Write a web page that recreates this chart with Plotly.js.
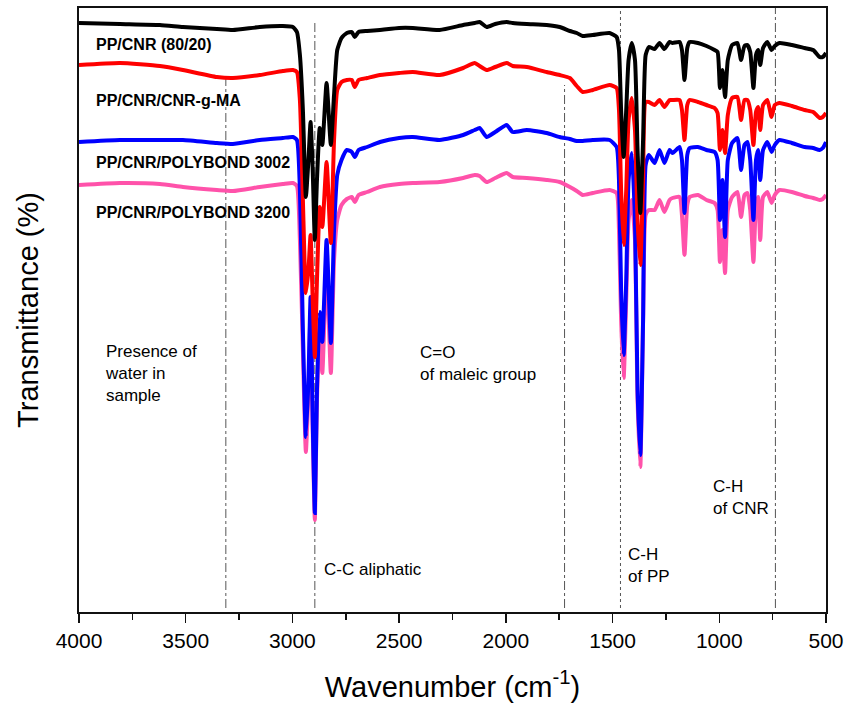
<!DOCTYPE html>
<html>
<head>
<meta charset="utf-8">
<script src="https://cdn.plot.ly/plotly-3.0.1.min.js"></script>
<style>html,body{margin:0;padding:0;background:#fff;}#chart{width:849px;height:707px;}</style>
</head>
<body>
<div id="chart"></div>
<script>
// Wavenumber grid (cm-1)
const wavenumber = [4000,3808,3621,3513,3354,3279,3153,3045,2998,2979,2965,2951,2937,2925,2915,2905,2895,2885,2872,2860,2840,2820,2805,2790,2770,2745,2722,2708,2690,2650,2590,2500,2436,2310,2200,2146,2123,2090,2050,1996,1968,1902,1809,1748,1700,1668,1640,1593,1514,1481,1470,1460,1448,1436,1425,1410,1395,1383,1370,1357,1345,1330,1303,1280,1257,1233,1219,1186,1175,1163,1150,1139,1100,1060,1022,1008,997,985,973,960,940,915,898,882,868,855,840,828,818,808,795,775,755,740,718,660,600,560,530,515,500];

// Transmittance (arbitrary units, offset spectra)
const ppCnr8020 = [589,588,587,585,583,582,585,586,585,580,557,502,415,452,490,442,372,432,484,467,529,467,517,562,574,579,580,575,580,581,582,584,584,582,587,589,590,585,588,590,589,588,587,585,581,579,576,577,579,575,562,502,455,502,552,569,552,462,399,472,557,565,563,569,563,570,569,570,562,532,564,570,569,566,562,560,524,542,515,552,567,569,552,566,567,560,524,557,562,547,564,570,562,566,569,567,564,562,555,555,559];
const ppCnrGMa = [547,549,546,542,535,534,537,541,542,540,512,412,319,342,377,312,255,332,405,385,450,369,472,522,530,532,532,525,532,534,537,539,540,537,544,549,546,542,545,549,546,545,540,537,534,526,520,522,527,524,502,422,367,422,492,514,482,392,347,432,510,510,507,512,505,512,512,512,502,472,507,512,510,507,504,499,462,482,459,497,514,515,492,512,512,502,467,500,505,482,507,512,495,507,509,506,502,500,494,495,499];
const ppCnrPb3002 = [470,472,472,472,469,468,472,474,475,472,422,282,175,232,315,192,99,222,300,270,372,269,382,437,452,462,460,455,462,465,470,474,475,472,477,482,484,475,480,487,480,482,479,475,473,471,471,472,472,465,432,322,257,332,432,459,392,222,157,292,447,457,449,462,449,462,459,465,452,399,457,464,465,462,460,452,392,432,375,452,469,474,442,467,470,452,392,452,462,432,462,470,460,467,472,469,465,464,462,464,470];
const ppCnrPb3200 = [427,429,428,425,422,421,425,428,429,426,372,262,160,222,302,182,92,212,287,239,347,239,352,392,407,413,415,410,417,420,425,428,429,430,434,437,436,430,434,439,435,434,432,430,425,421,417,419,422,419,382,292,234,312,392,412,372,212,145,292,397,402,402,412,400,412,414,415,397,357,407,415,417,412,409,402,350,382,339,402,415,420,395,417,419,402,350,407,415,372,415,420,409,417,422,420,416,414,412,413,417];

const seriesNames = ['PP/CNR (80/20)','PP/CNR/CNR-g-MA','PP/CNR/POLYBOND 3002','PP/CNR/POLYBOND 3200'];
const seriesColors = ['#000000','#ff0000','#0000ff','#ff52aa'];
const labelY = [568,512,450,400];

// Marker lines (wavenumber) and their vertical extents
const markerWn = [3312,2895,1725,1463,737];
const markerTop = [537,590,527,604,604];
const markerDash = ['dashdot','dashdot','dashdot','dot','dashdot'];

const allSeries = [ppCnr8020, ppCnrGMa, ppCnrPb3002, ppCnrPb3200];
const drawOrder = [3,2,1,0];
const traces = drawOrder.map(i => ({
  x: wavenumber, y: allSeries[i], type:'scatter', mode:'lines', name: seriesNames[i],
  line:{color: seriesColors[i], width:4, shape:'spline', smoothing:0.5}, hoverinfo:'skip'
}));

const font = 'Arial, "Liberation Sans", sans-serif';
const annotations = seriesNames.map((n,i)=>({
  x:3930, y:labelY[i], xref:'x', yref:'y', text:'<b>'+n+'</b>', showarrow:false,
  xanchor:'left', yanchor:'middle', font:{family:font, size:16, color:'#000'}
}));
const notes = [
  {x:3888, y:239, text:'Presence of<br>water in<br>sample'},
  {x:2413, y:249, text:'C=O<br>of maleic group'},
  {x:2862, y:43, text:'C-C aliphatic'},
  {x:1439, y:47, text:'C-H<br>of PP'},
  {x:1041, y:115, text:'C-H<br>of CNR'}
];
notes.forEach(a=>annotations.push({x:a.x, y:a.y, xref:'x', yref:'y', text:a.text, showarrow:false,
  xanchor:'left', yanchor:'middle', align:'left', font:{family:font, size:17, color:'#000'}}));

const shapes = markerWn.map((w,i)=>({type:'line', xref:'x', yref:'y', x0:w, x1:w, y0:4, y1:markerTop[i],
  line:{color:'#555', width:1, dash:markerDash[i]}, layer:'below'}));

const layout = {
  width:849, height:707,
  margin:{l:79, r:23, t:8, b:95},
  paper_bgcolor:'#fff', plot_bgcolor:'#fff',
  showlegend:false,
  xaxis:{range:[4000,500], autorange:false, showgrid:false, zeroline:false,
    showline:true, linecolor:'#111', linewidth:2, mirror:true,
    ticks:'outside', ticklen:9, tickwidth:1.5, tickcolor:'#111', dtick:500, tick0:500,
    minor:{ticks:'outside', ticklen:6, tickwidth:1.5, tickcolor:'#111', dtick:250},
    tickfont:{family:'"Liberation Sans Narrow", "Arial Narrow", Arial, sans-serif', size:21, color:'#000'},
    title:{text:'Wavenumber (cm<sup>-1</sup>)', font:{family:font, size:29, color:'#000'}, standoff:25}},
  yaxis:{range:[0,604], autorange:false, showgrid:false, zeroline:false,
    showline:true, linecolor:'#111', linewidth:2, mirror:true,
    ticks:'', showticklabels:false,
    title:{text:'Transmittance (%)', font:{family:font, size:29, color:'#000'}, standoff:30}},
  annotations: annotations,
  shapes: shapes
};
Plotly.newPlot('chart', traces, layout, {displayModeBar:false, staticPlot:true});
</script>
</body>
</html>
